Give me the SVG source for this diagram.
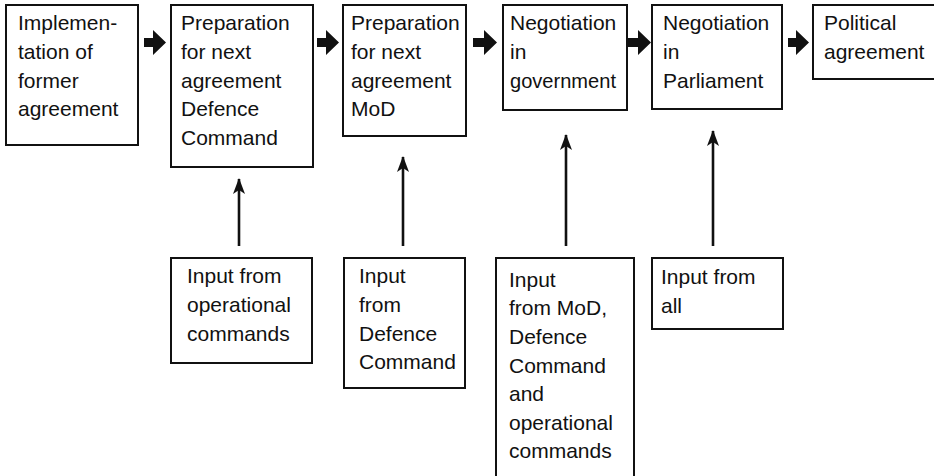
<svg xmlns="http://www.w3.org/2000/svg" width="934" height="476" viewBox="0 0 934 476">
  <style>
    .box { fill: #ffffff; stroke: #111111; stroke-width: 2; }
    .lbl { font-family: "Liberation Sans", Arial, sans-serif; font-size: 21px; fill: #111111; }
    .fat { fill: #111111; }
    .feed { stroke: #111111; stroke-width: 2.6; fill: none; marker-end: url(#head); }
  </style>
  <defs>
    <marker id="head" viewBox="0 0 16 12" refX="15" refY="6" markerWidth="16" markerHeight="12" markerUnits="userSpaceOnUse" orient="auto">
      <path d="M0,0 L16,6 L0,12 L4,6 Z" fill="#111111"/>
    </marker>
  </defs>
  <rect width="934" height="476" fill="#ffffff"/>

  <!-- process steps -->
  <g id="step-implementation">
    <rect class="box" x="6" y="5" width="132" height="140"/>
    <text class="lbl" x="18" y="30">Implemen-</text>
    <text class="lbl" x="18" y="59">tation of</text>
    <text class="lbl" x="18" y="88">former</text>
    <text class="lbl" x="18" y="116">agreement</text>
  </g>
  <g id="step-prep-defence">
    <rect class="box" x="171" y="5" width="142" height="162"/>
    <text class="lbl" x="181" y="30">Preparation</text>
    <text class="lbl" x="181" y="59">for next</text>
    <text class="lbl" x="181" y="88">agreement</text>
    <text class="lbl" x="181" y="116">Defence</text>
    <text class="lbl" x="181" y="145">Command</text>
  </g>
  <g id="step-prep-mod">
    <rect class="box" x="343" y="5" width="123" height="131"/>
    <text class="lbl" x="351" y="30">Preparation</text>
    <text class="lbl" x="351" y="59">for next</text>
    <text class="lbl" x="351" y="88">agreement</text>
    <text class="lbl" x="351" y="116">MoD</text>
  </g>
  <g id="step-negotiation-government">
    <rect class="box" x="503" y="5" width="124" height="105"/>
    <text class="lbl" x="510" y="30">Negotiation</text>
    <text class="lbl" x="510" y="59">in</text>
    <text class="lbl" x="510" y="88" textLength="106" lengthAdjust="spacingAndGlyphs">government</text>
  </g>
  <g id="step-negotiation-parliament">
    <rect class="box" x="652" y="5" width="130" height="104"/>
    <text class="lbl" x="663" y="30">Negotiation</text>
    <text class="lbl" x="663" y="59">in</text>
    <text class="lbl" x="663" y="88">Parliament</text>
  </g>
  <g id="step-political-agreement">
    <rect class="box" x="813" y="5" width="130" height="74"/>
    <text class="lbl" x="824" y="30">Political</text>
    <text class="lbl" x="824" y="59">agreement</text>
  </g>

  <!-- inputs -->
  <g id="input-operational">
    <rect class="box" x="171" y="258" width="141" height="105"/>
    <text class="lbl" x="187" y="283">Input from</text>
    <text class="lbl" x="187" y="312">operational</text>
    <text class="lbl" x="187" y="341">commands</text>
  </g>
  <g id="input-defence">
    <rect class="box" x="344" y="258" width="121" height="130"/>
    <text class="lbl" x="359" y="283">Input</text>
    <text class="lbl" x="359" y="312">from</text>
    <text class="lbl" x="359" y="341">Defence</text>
    <text class="lbl" x="359" y="369">Command</text>
  </g>
  <g id="input-all-services">
    <rect class="box" x="496" y="258" width="138" height="230"/>
    <text class="lbl" x="509" y="287">Input</text>
    <text class="lbl" x="509" y="315">from MoD,</text>
    <text class="lbl" x="509" y="344">Defence</text>
    <text class="lbl" x="509" y="373">Command</text>
    <text class="lbl" x="509" y="401">and</text>
    <text class="lbl" x="509" y="430">operational</text>
    <text class="lbl" x="509" y="458">commands</text>
  </g>
  <g id="input-all">
    <rect class="box" x="652" y="258" width="131" height="71"/>
    <text class="lbl" x="661" y="284">Input from</text>
    <text class="lbl" x="661" y="313">all</text>
  </g>

  <!-- connectors -->
  <g id="connectors">
    <polygon class="fat" points="144,38 153,38 153,30 166,42.5 153,55 153,47 144,47"/>
    <polygon class="fat" points="317,38 326,38 326,30 339,42.5 326,55 326,47 317,47"/>
    <polygon class="fat" points="473,38 484,38 484,30 497,42.5 484,55 484,47 473,47"/>
    <polygon class="fat" points="628,38 638,38 638,30 651,42.5 638,55 638,47 628,47"/>
    <polygon class="fat" points="788,38 796,38 796,30 809,42.5 796,55 796,47 788,47"/>

    <line class="feed" x1="239" y1="246" x2="239" y2="179"/>
    <line class="feed" x1="403" y1="246" x2="403" y2="157"/>
    <line class="feed" x1="566" y1="246" x2="566" y2="135"/>
    <line class="feed" x1="713" y1="246" x2="713" y2="131"/>
  </g>
</svg>
